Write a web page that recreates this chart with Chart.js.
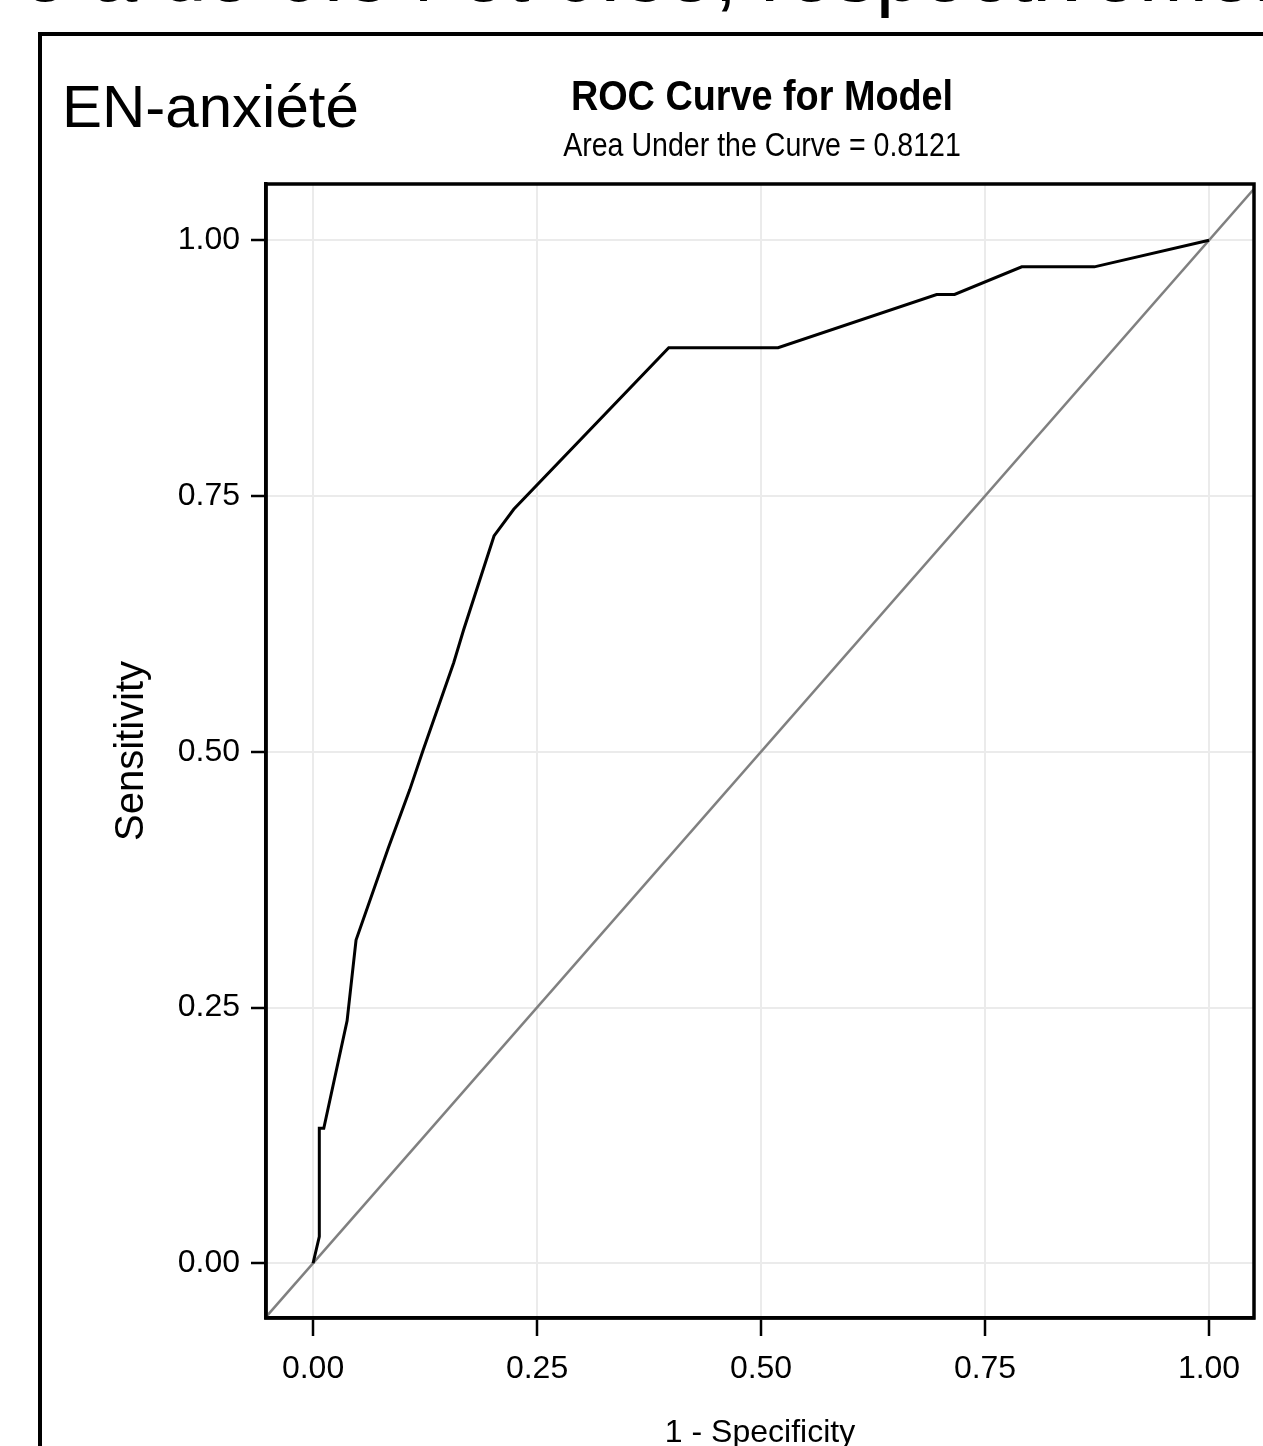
<!DOCTYPE html>
<html>
<head>
<meta charset="utf-8">
<script src="https://cdn.jsdelivr.net/npm/chart.js@4.4.0/dist/chart.umd.min.js"></script>
<style>
  html, body { margin: 0; padding: 0; background: #fff; overflow: hidden; }
  body { width: 1263px; height: 1446px; position: relative; font-family: 'Liberation Sans', Arial, sans-serif; color: #000; }
  .doc-line { position: absolute; left: 22px; top: -69px; font-size: 83px; line-height: 83px; white-space: nowrap; }
  .panel { position: absolute; left: 38px; top: 32px; width: 1300px; height: 1500px; border-left: 4px solid #000; border-top: 4px solid #000; }
  .panel-label { position: absolute; left: 62px; top: 77px; font-size: 60px; line-height: 60px; white-space: nowrap; }
  #roc { position: absolute; left: 0; top: 0; }
</style>
</head>
<body>
<div class="doc-line">e à de 0.84 et 0.85, respectivement</div>
<div class="panel"></div>
<div class="panel-label">EN-anxiété</div>
<canvas id="roc" width="1263" height="1446"></canvas>
<script>
// ROC curve points
const fpr = [0, 0.007, 0.007, 0.012, 0.038, 0.048, 0.084, 0.108, 0.123, 0.157, 0.168, 0.202, 0.224, 0.397, 0.519, 0.696, 0.716, 0.791, 0.872, 1.0];
const tpr = [0, 0.026, 0.132, 0.132, 0.237, 0.316, 0.406, 0.463, 0.502, 0.587, 0.619, 0.711, 0.737, 0.895, 0.895, 0.947, 0.947, 0.974, 0.974, 1.0];
// reference (chance) line, corner to corner
const chanceLine = [-0.0535, 1.055];
const tickValues = [0, 0.25, 0.5, 0.75, 1];
const chartTitle = 'ROC Curve for Model';
const aucLabel = 'Area Under the Curve = 0.8121';

const sans = "'Liberation Sans', Arial, sans-serif";
const tickFont = { family: sans, size: 32 };

// narrow text like the SAS output: draw squeezed horizontally
const drawSqueezed = (ctx, text, x, y, font, squeeze) => {
  ctx.save();
  ctx.font = font;
  ctx.translate(x, y);
  ctx.scale(squeeze, 1);
  ctx.fillText(text, 0, 0);
  ctx.restore();
};

const frameAndTitles = {
  id: 'frameAndTitles',
  afterDraw(chart) {
    const { ctx, chartArea: a } = chart;
    const cx = (a.left + a.right) / 2 + 2;
    ctx.save();
    ctx.strokeStyle = '#000';
    ctx.lineWidth = 3.5;
    ctx.strokeRect(a.left, a.top, a.right - a.left, a.bottom - a.top);
    ctx.fillStyle = '#000';
    ctx.textAlign = 'center';
    ctx.textBaseline = 'alphabetic';
    drawSqueezed(ctx, chartTitle, cx, 110, `bold 42px ${sans}`, 0.9);
    drawSqueezed(ctx, aucLabel, cx, 156, `34px ${sans}`, 0.84);
    ctx.restore();
  },
};

const setTicks = (scale) => {
  scale.ticks = tickValues.map((v) => ({ value: v }));
};

new Chart(document.getElementById('roc'), {
  type: 'line',
  data: {
    datasets: [
      {
        label: 'ROC',
        data: fpr.map((x, i) => ({ x, y: tpr[i] })),
        borderColor: '#000',
        borderWidth: 3,
        pointRadius: 0,
        tension: 0,
        fill: false,
        order: 0,
      },
      {
        label: 'Chance',
        data: chanceLine.map((v) => ({ x: v, y: v })),
        borderColor: '#808080',
        borderWidth: 2.5,
        pointRadius: 0,
        tension: 0,
        fill: false,
        order: 1,
      },
    ],
  },
  options: {
    responsive: false,
    animation: false,
    events: [],
    devicePixelRatio: 1,
    layout: { padding: { top: 184, right: 9, left: 0, bottom: 0 } },
    plugins: {
      legend: { display: false },
      tooltip: { enabled: false },
    },
    scales: {
      x: {
        type: 'linear',
        min: -0.0525,
        max: 1.0502,
        afterBuildTicks: setTicks,
        afterFit: (scale) => { scale.height = 128; },
        grid: { color: '#ebebeb', lineWidth: 2, tickColor: '#000', tickLength: 18, tickWidth: 2.5 },
        border: { display: true, color: '#000', width: 3.5 },
        ticks: { font: tickFont, color: '#000', padding: 14, maxRotation: 0, autoSkip: false, callback: (v) => v.toFixed(2) },
        title: { display: true, text: '1 - Specificity', color: '#000', font: { family: sans, size: 32 }, padding: { top: 0, bottom: -6 } },
      },
      y: {
        type: 'linear',
        min: -0.0535,
        max: 1.055,
        afterBuildTicks: setTicks,
        afterFit: (scale) => { scale.width = 266; },
        grid: { color: '#ebebeb', lineWidth: 2, tickColor: '#000', tickLength: 15, tickWidth: 2.5 },
        border: { display: true, color: '#000', width: 3.5 },
        ticks: { font: tickFont, color: '#000', padding: 11, autoSkip: false, callback: (v) => v.toFixed(2) },
        title: { display: true, text: 'Sensitivity', color: '#000', font: { family: sans, size: 40 }, padding: { top: 108, bottom: 0 } },
      },
    },
  },
  plugins: [frameAndTitles],
});
</script>
</body>
</html>
